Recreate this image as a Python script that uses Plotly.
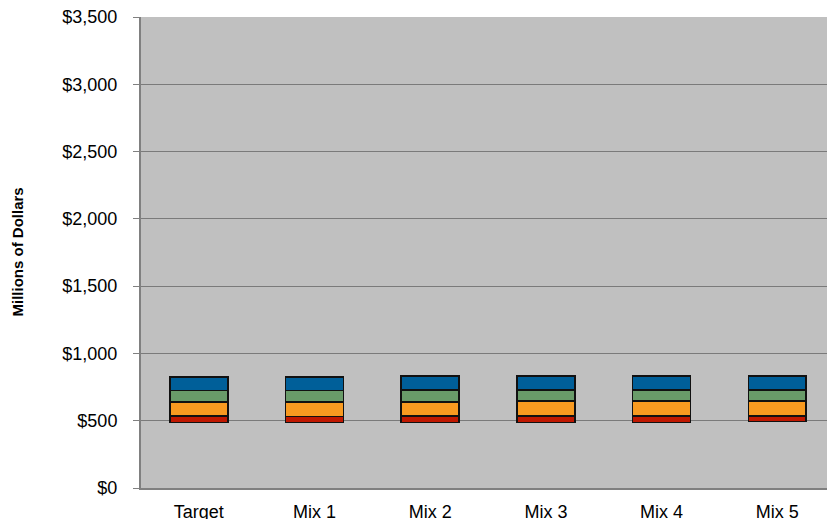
import plotly.graph_objects as go

categories = ["Target", "Mix 1", "Mix 2", "Mix 3", "Mix 4", "Mix 5"]
base = [488, 488, 488, 488, 488, 493]
red_seg = [45, 42, 45, 45, 47, 44]
orange_seg = [106, 109, 108, 113, 111, 109]
green_seg = [87, 87, 89, 84, 84, 84]
blue_seg = [101, 101, 104, 102, 104, 104]

y_ticks = [0, 500, 1000, 1500, 2000, 2500, 3000, 3500]
y_tick_text = ["$0", "$500", "$1,000", "$1,500", "$2,000", "$2,500", "$3,000", "$3,500"]

fig = go.Figure()

# invisible base so the stack floats
fig.add_trace(go.Bar(x=categories, y=base, marker=dict(color="rgba(0,0,0,0)",
                     line=dict(width=0)), hoverinfo="skip", showlegend=False))

segments = [
    (red_seg, "#C01800"),
    (orange_seg, "#F89A20"),
    (green_seg, "#699B69"),
    (blue_seg, "#005F99"),
]
for vals, col in segments:
    fig.add_trace(go.Bar(x=categories, y=vals, showlegend=False,
                         marker=dict(color=col, line=dict(color="#111111", width=1.6))))

fig.update_layout(
    barmode="stack",
    bargap=0.5,
    width=827, height=519,
    margin=dict(l=141, r=0, t=17, b=31),
    paper_bgcolor="white",
    plot_bgcolor="#C0C0C0",
    font=dict(family="Liberation Sans, Arial, sans-serif", size=18, color="black"),
    showlegend=False,
)

fig.update_xaxes(
    range=[-0.5, 5.43],
    showgrid=False,
    showline=True, linecolor="#808080", linewidth=2,
    ticks="", tickfont=dict(size=18),
    ticklabelstandoff=6,
    automargin=False,
    fixedrange=True,
)

fig.update_yaxes(
    range=[0, 3500],
    tickvals=y_ticks, ticktext=y_tick_text,
    showgrid=True, gridcolor="#7A7A7A", gridwidth=1,
    showline=True, linecolor="#808080", linewidth=2, mirror=True,
    ticks="outside", ticklen=6, tickcolor="#808080",
    ticklabelstandoff=12,
    tickfont=dict(size=18),
    zeroline=False,
    automargin=False,
    fixedrange=True,
)

fig.add_annotation(
    text="<b>Millions of Dollars</b>",
    xref="paper", yref="paper",
    x=-(141 - 17) / 686, y=0.5,
    xanchor="center", yanchor="middle",
    textangle=-90, showarrow=False,
    font=dict(size=15, color="black"),
)

fig.write_html("out.html")
